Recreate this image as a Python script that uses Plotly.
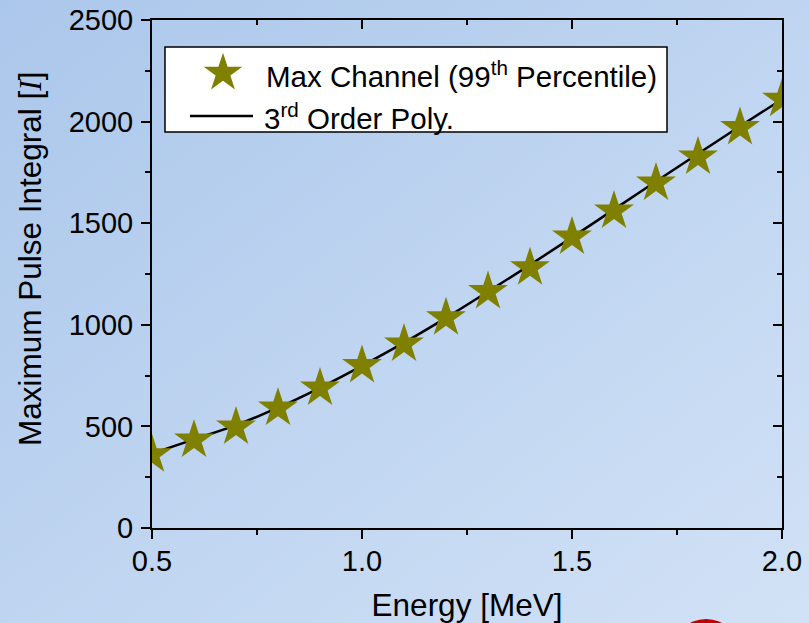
import base64
import plotly.graph_objects as go

# Calibration data: maximum pulse integral (99th percentile channel) vs deposited energy
energy_mev = [0.5, 0.6, 0.7, 0.8, 0.9, 1.0, 1.1, 1.2, 1.3, 1.4, 1.5, 1.6, 1.7, 1.8, 1.9, 2.0]
max_channel = [360, 433, 497, 590, 689, 800, 905, 1035, 1164, 1281, 1432, 1560, 1698, 1826, 1971, 2110]
# 3rd order polynomial fit evaluated at the same energies
poly_fit = [366, 436, 506, 592, 690, 798, 912, 1034, 1163, 1295, 1430, 1568, 1705, 1842, 1977, 2110]

x_ticks = [0.5, 1.0, 1.5, 2.0]
y_ticks = [0, 500, 1000, 1500, 2000, 2500]

marker_label = "Max Channel (99<sup>th</sup> Percentile)"
fit_label = "3<sup>rd</sup> Order Poly."
x_title = "Energy [MeV]"
y_title = "Maximum Pulse Integral [<span style=\"font-family:Liberation Serif,serif;font-style:italic\">I</span>]"

FONT = "Liberation Sans, Arial, sans-serif"
FS_TICK = 29
FS_TITLE = 31.5
FS_LEG = 29.5
OLIVE = "#808000"

W, H = 809, 623
ML, MR, MT, MB = 152, 27, 20, 95
PW, PH = W - ML - MR, H - MT - MB


def px(x):
    """pixel column -> paper x"""
    return (x - ML) / PW


def py(y):
    """pixel row -> paper y"""
    return 1 - (y - MT) / PH


fig = go.Figure()

fig.add_trace(go.Scatter(
    x=energy_mev, y=poly_fit, mode="lines",
    line=dict(color="black", width=2.5, shape="spline"), showlegend=False,
))
fig.add_trace(go.Scatter(
    x=energy_mev, y=max_channel, mode="markers",
    marker=dict(symbol="star", size=30, color=OLIVE, line=dict(width=0)), showlegend=False,
))
# invisible trace carrying the mirrored top/right axes
fig.add_trace(go.Scatter(
    x=energy_mev, y=max_channel, xaxis="x2", yaxis="y2", mode="markers",
    marker=dict(opacity=0), showlegend=False, hoverinfo="skip",
))
# legend key star, placed on a pixel-scaled helper axis
fig.add_trace(go.Scatter(
    x=[223 - ML], y=[73 - MT], xaxis="x3", yaxis="y3", mode="markers",
    marker=dict(symbol="star", size=29, color=OLIVE, line=dict(width=0)),
    showlegend=False, hoverinfo="skip", cliponaxis=False,
))

# soft diagonal gradient behind the whole figure
svg = (
    '<svg xmlns="http://www.w3.org/2000/svg" width="809" height="623">'
    '<defs><linearGradient id="g" x1="0" y1="0" x2="1" y2="1">'
    '<stop offset="0" stop-color="#abc7eb"/><stop offset="1" stop-color="#d2e2f6"/>'
    '</linearGradient></defs><rect width="809" height="623" fill="url(#g)"/></svg>'
)
bg_src = "data:image/svg+xml;base64," + base64.b64encode(svg.encode()).decode()

axis_common = dict(
    showline=True, linecolor="black", linewidth=2, showgrid=False, zeroline=False,
    tickcolor="black", tickwidth=2, automargin=False,
)

fig.update_layout(
    width=W, height=H,
    margin=dict(l=ML, r=MR, t=MT, b=MB, pad=0, autoexpand=False),
    paper_bgcolor="rgba(0,0,0,0)", plot_bgcolor="rgba(0,0,0,0)",
    font=dict(family=FONT, size=FS_TICK, color="black"),
    showlegend=False,
    xaxis=dict(
        range=[0.5, 2.0], tickvals=x_ticks, ticktext=[f"{v:.1f}" for v in x_ticks],
        ticks="outside", ticklen=9, tickfont=dict(size=FS_TICK), ticklabelstandoff=-3,
        minor=dict(ticks="outside", ticklen=5, dtick=0.25, tick0=0.5, tickcolor="black", tickwidth=2),
        title=dict(text=x_title, standoff=18, font=dict(size=FS_TITLE)),
        **axis_common,
    ),
    yaxis=dict(
        range=[0, 2500], tickvals=y_ticks, ticks="outside", ticklen=9,
        tickfont=dict(size=FS_TICK), ticklabelstandoff=2,
        minor=dict(ticks="outside", ticklen=5, dtick=250, tick0=0, tickcolor="black", tickwidth=2),
        **axis_common,
    ),
    xaxis2=dict(
        overlaying="x", side="top", range=[0.5, 2.0], tickvals=x_ticks, showticklabels=False,
        ticks="inside", ticklen=9,
        minor=dict(ticks="inside", ticklen=5, dtick=0.25, tick0=0.5, tickcolor="black", tickwidth=2),
        **axis_common,
    ),
    yaxis2=dict(
        overlaying="y", side="right", range=[0, 2500], tickvals=y_ticks, showticklabels=False,
        ticks="inside", ticklen=9,
        minor=dict(ticks="inside", ticklen=5, dtick=250, tick0=0, tickcolor="black", tickwidth=2),
        **axis_common,
    ),
    xaxis3=dict(overlaying="x", range=[0, PW], visible=False, anchor="y3", automargin=False),
    yaxis3=dict(overlaying="y", range=[PH, 0], visible=False, anchor="x3", automargin=False),
    images=[dict(
        source=bg_src, xref="paper", yref="paper",
        x=-ML / PW, y=1 + MT / PH, sizex=W / PW, sizey=H / PH,
        xanchor="left", yanchor="top", sizing="stretch", layer="below",
    )],
    shapes=[
        # legend frame, beneath the traces so the key star shows on top
        dict(type="rect", xref="paper", yref="paper",
             x0=px(165), x1=px(667), y0=py(132), y1=py(47),
             fillcolor="white", line=dict(color="black", width=1.5), layer="below"),
        # legend key line
        dict(type="line", xref="paper", yref="paper",
             x0=px(190), x1=px(253), y0=py(116), y1=py(116),
             line=dict(color="black", width=2.5), layer="below"),
        # red badge peeking in at the bottom edge
        dict(type="circle", xref="paper", yref="paper",
             x0=px(672), x1=px(740), y0=py(687), y1=py(619),
             fillcolor="#c00000", line=dict(width=0), layer="above"),
    ],
    annotations=[
        dict(text=marker_label, xref="paper", yref="paper", x=px(264), y=py(74),
             xanchor="left", yanchor="middle", showarrow=False, font=dict(size=FS_LEG)),
        dict(text=fit_label, xref="paper", yref="paper", x=px(262), y=py(116),
             xanchor="left", yanchor="middle", showarrow=False, font=dict(size=FS_LEG)),
        # y-axis title
        dict(text=y_title, xref="paper", yref="paper", x=px(30), y=py(259),
             xanchor="center", yanchor="middle", textangle=-90, showarrow=False,
             font=dict(size=FS_TITLE)),
    ],
)

fig.write_html("out.html")
